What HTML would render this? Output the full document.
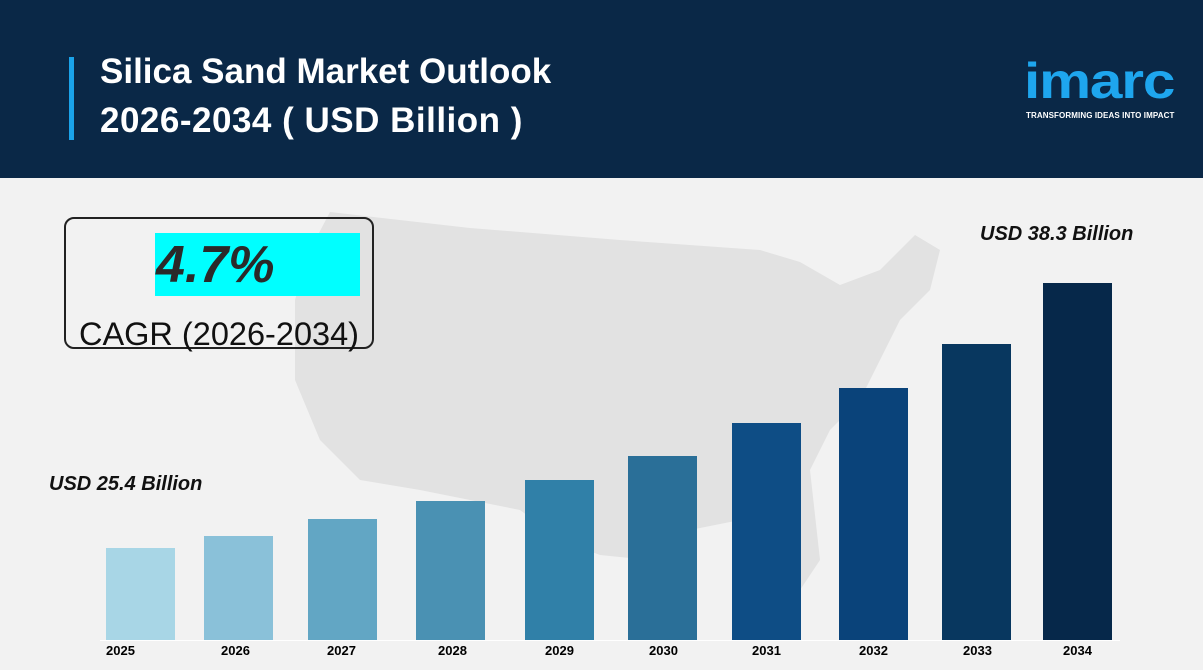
<!DOCTYPE html>
<html><head><meta charset="utf-8"><style>
*{margin:0;padding:0;box-sizing:border-box}
body{width:1203px;height:670px;overflow:hidden;background:#f2f2f2;font-family:"Liberation Sans",sans-serif;position:relative}
.hdr{position:absolute;left:0;top:0;width:1203px;height:178px;background:#0a2847}
.bar{position:absolute;left:69px;top:57px;width:5px;height:83px;background:#1aa3ea}
.t{position:absolute;left:100px;color:#fff;font-weight:bold;font-size:35px;line-height:50px}
.b{position:absolute;bottom:30px;width:69px}
.y{position:absolute;top:643px;font-weight:bold;font-size:13px;color:#000;width:69px;text-align:center}
.lab{position:absolute;font-family:"Liberation Sans",sans-serif;font-weight:bold;font-style:italic;font-size:20px;color:#111}
</style></head><body>
<div class="hdr"></div>
<div class="bar"></div>
<div class="t" style="top:47px">Silica Sand Market Outlook</div>
<div class="t" style="top:96px;letter-spacing:0.5px">2026-2034 ( USD Billion )</div>
<div style="position:absolute;left:1024px;top:54px;color:#1ea6ee;font-weight:bold;font-size:50px;line-height:54px;letter-spacing:-1px;transform:scaleX(1.17);transform-origin:left top">imarc</div>
<div style="position:absolute;left:1026px;top:111px;color:#fff;font-weight:bold;font-size:8px;letter-spacing:0.1px">TRANSFORMING IDEAS INTO IMPACT</div>
<svg style="position:absolute;left:0;top:0" width="1203" height="670">
<path d="M330 212 L470 228 L620 240 L760 250 L800 262 L840 285 L880 270 L915 235 L940 250 L930 290 L900 320 L880 360 L860 400 L830 430 L810 470 L820 560 L800 590 L780 545 L740 520 L690 530 L650 560 L600 555 L560 540 L520 510 L470 500 L420 490 L360 480 L320 440 L295 380 L295 300 L310 250 Z" fill="#e2e2e2"/>
</svg>
<div style="position:absolute;left:64px;top:217px;width:310px;height:132px;border:2px solid #222;border-radius:10px"></div>
<div style="position:absolute;left:155px;top:233px;width:205px;height:63px;background:#00ffff"></div>
<div style="position:absolute;left:156px;top:234px;font-weight:bold;font-style:italic;font-size:52px;color:#2a2a2a;line-height:62px">4.7%</div>
<div style="position:absolute;left:79px;top:314px;font-size:32.5px;color:#111;line-height:40px">CAGR (2026-2034)</div>
<div class="lab" style="left:49px;top:473px">USD 25.4 Billion</div>
<div class="lab" style="left:980px;top:223px">USD 38.3 Billion</div>
<div style="position:absolute;left:100px;top:640px;width:1020px;height:1px;background:#fff"></div>
<div class="b" style="left:106px;height:92px;background:#a8d6e6"></div>
<div class="b" style="left:204px;height:104px;background:#8ac1d9"></div>
<div class="b" style="left:308px;height:121px;background:#62a6c4"></div>
<div class="b" style="left:416px;height:139px;background:#4a91b3"></div>
<div class="b" style="left:525px;height:160px;background:#3080a8"></div>
<div class="b" style="left:628px;height:184px;background:#2a6f98"></div>
<div class="b" style="left:732px;height:217px;background:#0e4d85"></div>
<div class="b" style="left:839px;height:252px;background:#0a437a"></div>
<div class="b" style="left:942px;height:296px;background:#08375f"></div>
<div class="b" style="left:1043px;height:357px;background:#06284a"></div>
<div class="y" style="left:86px">2025</div>
<div class="y" style="left:201px">2026</div>
<div class="y" style="left:307px">2027</div>
<div class="y" style="left:418px">2028</div>
<div class="y" style="left:525px">2029</div>
<div class="y" style="left:629px">2030</div>
<div class="y" style="left:732px">2031</div>
<div class="y" style="left:839px">2032</div>
<div class="y" style="left:943px">2033</div>
<div class="y" style="left:1043px">2034</div>
</body></html>
